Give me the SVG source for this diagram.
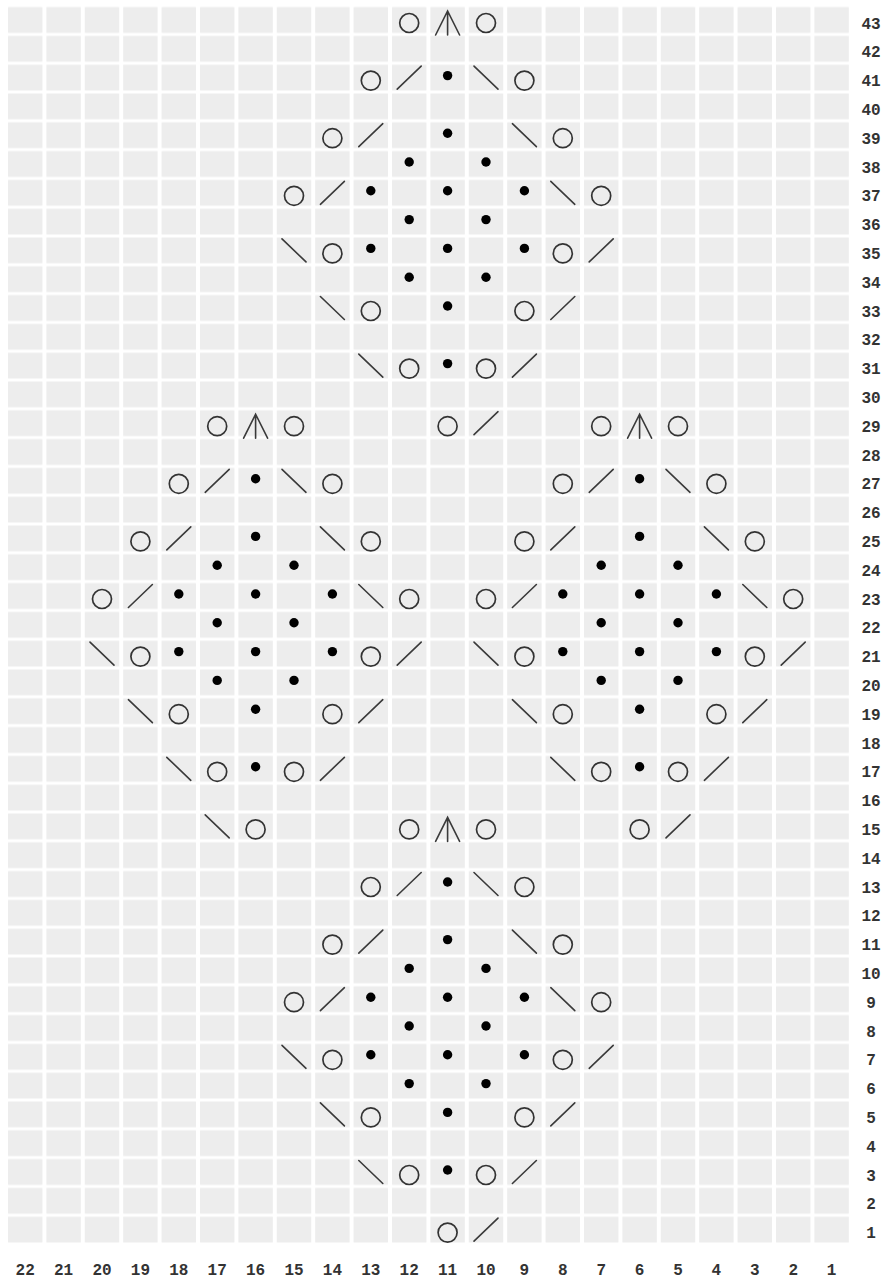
<svg xmlns="http://www.w3.org/2000/svg" xmlns:xlink="http://www.w3.org/1999/xlink" width="882" height="1281" viewBox="0 0 882 1281">
<style>
.yo{fill:none;stroke:#333;stroke-width:1.7}
.ln{fill:none;stroke:#3a3a3a;stroke-width:1.6;stroke-linecap:round}
.dot{fill:#000}
.lbl{font-family:"Liberation Mono","Courier New",monospace;font-weight:bold;font-size:16px;fill:#333;text-anchor:middle}
</style>
<defs>
<pattern id="grid" patternUnits="userSpaceOnUse" x="6" y="5.6" width="38.4" height="28.8">
<rect x="2" y="1.5" width="34.4" height="25.8" fill="#ededed"/>
</pattern>
<g id="yo"><circle class="yo" cx="0" cy="3" r="9.5"/></g>
<g id="k2"><line class="ln" x1="-12" y1="11.5" x2="12" y2="-11.5"/></g>
<g id="sk"><line class="ln" x1="-12" y1="-11.5" x2="12" y2="11.5"/></g>
<g id="p"><circle class="dot" cx="0" cy="-2" r="4.7"/></g>
<g id="cdd"><path class="ln" d="M-12,15 L0,-9 L12,15 M0,-9 V15"/></g>
</defs>
<rect width="882" height="1281" fill="#fff"/>
<rect id="chart-grid" x="6" y="5.6" width="844.8" height="1238.4" fill="url(#grid)"/>
<g id="symbols">
<use href="#yo" x="409.2" y="20"/><use href="#cdd" x="447.6" y="20"/><use href="#yo" x="486" y="20"/>
<use href="#yo" x="370.8" y="77.6"/><use href="#k2" x="409.2" y="77.6"/><use href="#p" x="447.6" y="77.6"/><use href="#sk" x="486" y="77.6"/><use href="#yo" x="524.4" y="77.6"/>
<use href="#yo" x="332.4" y="135.2"/><use href="#k2" x="370.8" y="135.2"/><use href="#p" x="447.6" y="135.2"/><use href="#sk" x="524.4" y="135.2"/><use href="#yo" x="562.8" y="135.2"/>
<use href="#p" x="409.2" y="164"/><use href="#p" x="486" y="164"/>
<use href="#yo" x="294" y="192.8"/><use href="#k2" x="332.4" y="192.8"/><use href="#p" x="370.8" y="192.8"/><use href="#p" x="447.6" y="192.8"/><use href="#p" x="524.4" y="192.8"/><use href="#sk" x="562.8" y="192.8"/><use href="#yo" x="601.2" y="192.8"/>
<use href="#p" x="409.2" y="221.6"/><use href="#p" x="486" y="221.6"/>
<use href="#sk" x="294" y="250.4"/><use href="#yo" x="332.4" y="250.4"/><use href="#p" x="370.8" y="250.4"/><use href="#p" x="447.6" y="250.4"/><use href="#p" x="524.4" y="250.4"/><use href="#yo" x="562.8" y="250.4"/><use href="#k2" x="601.2" y="250.4"/>
<use href="#p" x="409.2" y="279.2"/><use href="#p" x="486" y="279.2"/>
<use href="#sk" x="332.4" y="308"/><use href="#yo" x="370.8" y="308"/><use href="#p" x="447.6" y="308"/><use href="#yo" x="524.4" y="308"/><use href="#k2" x="562.8" y="308"/>
<use href="#sk" x="370.8" y="365.6"/><use href="#yo" x="409.2" y="365.6"/><use href="#p" x="447.6" y="365.6"/><use href="#yo" x="486" y="365.6"/><use href="#k2" x="524.4" y="365.6"/>
<use href="#yo" x="217.2" y="423.2"/><use href="#cdd" x="255.6" y="423.2"/><use href="#yo" x="294" y="423.2"/>
<use href="#yo" x="447.6" y="423.2"/><use href="#k2" x="486" y="423.2"/>
<use href="#yo" x="601.2" y="423.2"/><use href="#cdd" x="639.6" y="423.2"/><use href="#yo" x="678" y="423.2"/>
<use href="#yo" x="178.8" y="480.8"/><use href="#k2" x="217.2" y="480.8"/><use href="#p" x="255.6" y="480.8"/><use href="#sk" x="294" y="480.8"/><use href="#yo" x="332.4" y="480.8"/>
<use href="#yo" x="562.8" y="480.8"/><use href="#k2" x="601.2" y="480.8"/><use href="#p" x="639.6" y="480.8"/><use href="#sk" x="678" y="480.8"/><use href="#yo" x="716.4" y="480.8"/>
<use href="#yo" x="140.4" y="538.4"/><use href="#k2" x="178.8" y="538.4"/><use href="#p" x="255.6" y="538.4"/><use href="#sk" x="332.4" y="538.4"/><use href="#yo" x="370.8" y="538.4"/>
<use href="#yo" x="524.4" y="538.4"/><use href="#k2" x="562.8" y="538.4"/><use href="#p" x="639.6" y="538.4"/><use href="#sk" x="716.4" y="538.4"/><use href="#yo" x="754.8" y="538.4"/>
<use href="#p" x="217.2" y="567.2"/><use href="#p" x="294" y="567.2"/><use href="#p" x="601.2" y="567.2"/><use href="#p" x="678" y="567.2"/>
<use href="#yo" x="102" y="596"/><use href="#k2" x="140.4" y="596"/><use href="#p" x="178.8" y="596"/><use href="#p" x="255.6" y="596"/><use href="#p" x="332.4" y="596"/><use href="#sk" x="370.8" y="596"/><use href="#yo" x="409.2" y="596"/>
<use href="#yo" x="486" y="596"/><use href="#k2" x="524.4" y="596"/><use href="#p" x="562.8" y="596"/><use href="#p" x="639.6" y="596"/><use href="#p" x="716.4" y="596"/><use href="#sk" x="754.8" y="596"/><use href="#yo" x="793.2" y="596"/>
<use href="#p" x="217.2" y="624.8"/><use href="#p" x="294" y="624.8"/><use href="#p" x="601.2" y="624.8"/><use href="#p" x="678" y="624.8"/>
<use href="#sk" x="102" y="653.6"/><use href="#yo" x="140.4" y="653.6"/><use href="#p" x="178.8" y="653.6"/><use href="#p" x="255.6" y="653.6"/><use href="#p" x="332.4" y="653.6"/><use href="#yo" x="370.8" y="653.6"/><use href="#k2" x="409.2" y="653.6"/>
<use href="#sk" x="486" y="653.6"/><use href="#yo" x="524.4" y="653.6"/><use href="#p" x="562.8" y="653.6"/><use href="#p" x="639.6" y="653.6"/><use href="#p" x="716.4" y="653.6"/><use href="#yo" x="754.8" y="653.6"/><use href="#k2" x="793.2" y="653.6"/>
<use href="#p" x="217.2" y="682.4"/><use href="#p" x="294" y="682.4"/><use href="#p" x="601.2" y="682.4"/><use href="#p" x="678" y="682.4"/>
<use href="#sk" x="140.4" y="711.2"/><use href="#yo" x="178.8" y="711.2"/><use href="#p" x="255.6" y="711.2"/><use href="#yo" x="332.4" y="711.2"/><use href="#k2" x="370.8" y="711.2"/>
<use href="#sk" x="524.4" y="711.2"/><use href="#yo" x="562.8" y="711.2"/><use href="#p" x="639.6" y="711.2"/><use href="#yo" x="716.4" y="711.2"/><use href="#k2" x="754.8" y="711.2"/>
<use href="#sk" x="178.8" y="768.8"/><use href="#yo" x="217.2" y="768.8"/><use href="#p" x="255.6" y="768.8"/><use href="#yo" x="294" y="768.8"/><use href="#k2" x="332.4" y="768.8"/>
<use href="#sk" x="562.8" y="768.8"/><use href="#yo" x="601.2" y="768.8"/><use href="#p" x="639.6" y="768.8"/><use href="#yo" x="678" y="768.8"/><use href="#k2" x="716.4" y="768.8"/>
<use href="#sk" x="217.2" y="826.4"/><use href="#yo" x="255.6" y="826.4"/>
<use href="#yo" x="409.2" y="826.4"/><use href="#cdd" x="447.6" y="826.4"/><use href="#yo" x="486" y="826.4"/>
<use href="#yo" x="639.6" y="826.4"/><use href="#k2" x="678" y="826.4"/>
<use href="#yo" x="370.8" y="884"/><use href="#k2" x="409.2" y="884"/><use href="#p" x="447.6" y="884"/><use href="#sk" x="486" y="884"/><use href="#yo" x="524.4" y="884"/>
<use href="#yo" x="332.4" y="941.6"/><use href="#k2" x="370.8" y="941.6"/><use href="#p" x="447.6" y="941.6"/><use href="#sk" x="524.4" y="941.6"/><use href="#yo" x="562.8" y="941.6"/>
<use href="#p" x="409.2" y="970.4"/><use href="#p" x="486" y="970.4"/>
<use href="#yo" x="294" y="999.2"/><use href="#k2" x="332.4" y="999.2"/><use href="#p" x="370.8" y="999.2"/><use href="#p" x="447.6" y="999.2"/><use href="#p" x="524.4" y="999.2"/><use href="#sk" x="562.8" y="999.2"/><use href="#yo" x="601.2" y="999.2"/>
<use href="#p" x="409.2" y="1028"/><use href="#p" x="486" y="1028"/>
<use href="#sk" x="294" y="1056.8"/><use href="#yo" x="332.4" y="1056.8"/><use href="#p" x="370.8" y="1056.8"/><use href="#p" x="447.6" y="1056.8"/><use href="#p" x="524.4" y="1056.8"/><use href="#yo" x="562.8" y="1056.8"/><use href="#k2" x="601.2" y="1056.8"/>
<use href="#p" x="409.2" y="1085.6"/><use href="#p" x="486" y="1085.6"/>
<use href="#sk" x="332.4" y="1114.4"/><use href="#yo" x="370.8" y="1114.4"/><use href="#p" x="447.6" y="1114.4"/><use href="#yo" x="524.4" y="1114.4"/><use href="#k2" x="562.8" y="1114.4"/>
<use href="#sk" x="370.8" y="1172"/><use href="#yo" x="409.2" y="1172"/><use href="#p" x="447.6" y="1172"/><use href="#yo" x="486" y="1172"/><use href="#k2" x="524.4" y="1172"/>
<use href="#yo" x="447.6" y="1229.6"/><use href="#k2" x="486" y="1229.6"/>
</g>
<g id="row-labels" class="lbl">
<text x="871" y="28.5">43</text><text x="871" y="57.3">42</text><text x="871" y="86.1">41</text><text x="871" y="114.9">40</text><text x="871" y="143.7">39</text><text x="871" y="172.5">38</text><text x="871" y="201.3">37</text><text x="871" y="230.1">36</text><text x="871" y="258.9">35</text><text x="871" y="287.7">34</text><text x="871" y="316.5">33</text><text x="871" y="345.3">32</text><text x="871" y="374.1">31</text><text x="871" y="402.9">30</text><text x="871" y="431.7">29</text><text x="871" y="460.5">28</text><text x="871" y="489.3">27</text><text x="871" y="518.1">26</text><text x="871" y="546.9">25</text><text x="871" y="575.7">24</text><text x="871" y="604.5">23</text><text x="871" y="633.3">22</text><text x="871" y="662.1">21</text><text x="871" y="690.9">20</text><text x="871" y="719.7">19</text><text x="871" y="748.5">18</text><text x="871" y="777.3">17</text><text x="871" y="806.1">16</text><text x="871" y="834.9">15</text><text x="871" y="863.7">14</text><text x="871" y="892.5">13</text><text x="871" y="921.3">12</text><text x="871" y="950.1">11</text><text x="871" y="978.9">10</text><text x="871" y="1007.7">9</text><text x="871" y="1036.5">8</text><text x="871" y="1065.3">7</text><text x="871" y="1094.1">6</text><text x="871" y="1122.9">5</text><text x="871" y="1151.7">4</text><text x="871" y="1180.5">3</text><text x="871" y="1209.3">2</text><text x="871" y="1238.1">1</text>
</g>
<g id="col-labels" class="lbl">
<text x="25.2" y="1275">22</text><text x="63.6" y="1275">21</text><text x="102" y="1275">20</text><text x="140.4" y="1275">19</text><text x="178.8" y="1275">18</text><text x="217.2" y="1275">17</text><text x="255.6" y="1275">16</text><text x="294" y="1275">15</text><text x="332.4" y="1275">14</text><text x="370.8" y="1275">13</text><text x="409.2" y="1275">12</text><text x="447.6" y="1275">11</text><text x="486" y="1275">10</text><text x="524.4" y="1275">9</text><text x="562.8" y="1275">8</text><text x="601.2" y="1275">7</text><text x="639.6" y="1275">6</text><text x="678" y="1275">5</text><text x="716.4" y="1275">4</text><text x="754.8" y="1275">3</text><text x="793.2" y="1275">2</text><text x="831.6" y="1275">1</text>
</g>
</svg>
